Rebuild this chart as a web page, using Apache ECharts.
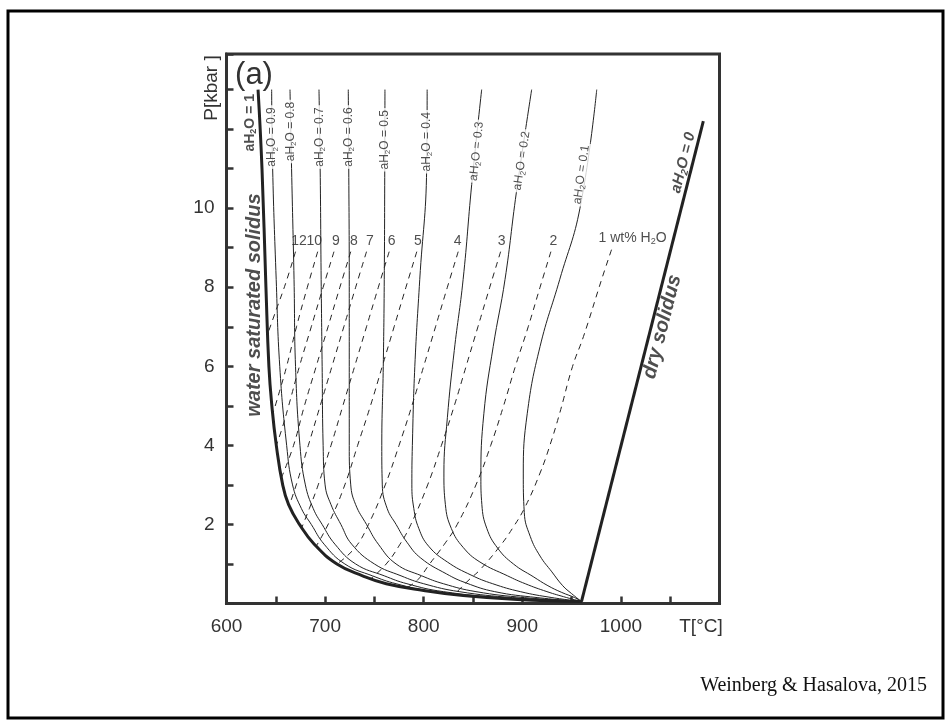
<!DOCTYPE html>
<html><head><meta charset="utf-8">
<script src="https://cdn.jsdelivr.net/npm/echarts@6/dist/echarts.min.js"></script>
<style>html,body{margin:0;padding:0;background:#fff}#c{width:952px;height:723px}</style>
</head><body><div id="c"></div>
<script>
// ---------- data (T in °C, P in kbar) ----------
const xTickLabels = ['600','700','800','900','1000'];
const yTickLabels = ['2','4','6','8','10'];
const xAxisTitle = 'T[°C]';
const yAxisTitle = 'P[kbar ]';
const panelLabel = '(a)';
const citation = 'Weinberg & Hasalova, 2015';

// water-saturated solidus (aH2O = 1)
const wetSolidus = [[632,13],[636,11],[640,8],[643,6],[646,5],[650.5,4],[657,3],[663,2.5],[674,2],[689,1.5],[712,1],[738,0.7],[762,0.5],[800,0.33],[840,0.2],[895,0.1],[960,0.05]];
// dry solidus (aH2O = 0)
const drySolidus = [[960,0.05],[1083.6,12.2]];

// H2O activity curves
const aH2O09 = [[645.8,13],[646.8,11],[650.4,8.2],[654,6],[661,4],[667,3],[676,2.4],[686,2],[699,1.5],[720,1],[748,0.7],[772,0.5],[810,0.3],[872,0.15],[960,0.05]];
const aH2O08 = [[664.4,13],[666,11],[668.5,8.2],[670,6],[674.5,4],[680,3],[688,2.4],[697,2],[710,1.5],[731,1],[760,0.7],[783,0.5],[820,0.3],[880,0.15],[960,0.05]];
const aH2O07 = [[693.8,13],[695,11],[696,8.2],[697,6],[698,4],[700,3],[706,2.5],[716,2],[727,1.5],[750,1],[777,0.7],[800,0.5],[836,0.3],[890,0.15],[960,0.05]];
const aH2O06 = [[723.5,13],[724,11],[724.5,8.2],[724.5,6],[724.5,4],[726,3],[731,2.5],[742,2],[754,1.5],[772,1],[798,0.7],[820,0.5],[853,0.3],[902,0.15],[960,0.05]];
const aH2O05 = [[760.7,13],[760.5,11],[760,8.2],[759,6],[757.5,4],[758,3],[763,2.4],[772,2],[783,1.55],[797,1.15],[823,0.75],[843,0.52],[872,0.3],[915,0.15],[960,0.05]];
const aH2O04 = [[803.5,13],[803,11],[796,8.2],[791,6],[788.5,4],[788,3],[790,2.4],[795,1.9],[805,1.45],[824,1.05],[848,0.72],[870,0.5],[898,0.3],[930,0.15],[960,0.05]];
const aH2O03 = [[858.8,13],[848.7,10.6],[840,8.2],[831,6.4],[824,4.7],[820.5,3.3],[822,2.5],[828,1.9],[840,1.42],[857,1.05],[885,0.7],[903,0.5],[925,0.3],[945,0.15],[960,0.05]];
const aH2O02 = [[909.5,13],[894,10.4],[882.5,8.2],[870.5,6.5],[861,4.8],[858,3.2],[859,2.5],[864,1.9],[875,1.4],[891,1],[911,0.68],[926,0.45],[940,0.28],[953,0.15],[960,0.05]];
const aH2O01 = [[975.5,13],[958.5,10],[938,8.2],[918,6.5],[905,4.8],[901,3.3],[902,2.3],[908,1.7],[918,1.2],[930,0.8],[941,0.45],[950,0.25],[960,0.05]];
const activityCurves = [aH2O09,aH2O08,aH2O07,aH2O06,aH2O05,aH2O04,aH2O03,aH2O02,aH2O01];
const activityValues = ['0.9','0.8','0.7','0.6','0.5','0.4','0.3','0.2','0.1'];
const activityLabelAt = [[646,11.8],[665,11.94],[694.5,11.8],[724,11.8],[760.5,11.73],[803,11.68],[853.7,11.44],[899.4,11.2],[960,10.85]];
const activityLabelTilt = [90,90,90,90,90,90,84,81.5,82];

// melt H2O isopleths (wt% H2O)
const wt12 = [[670,8.9],[660,8.1],[650,7.4],[641.5,6.8]];
const wt10 = [[692.5,8.9],[682,8],[671,7],[661,6],[653,5.3],[647,4.8]];
const wt9  = [[709,8.9],[698,8],[686,7],[674,6],[663,5],[656,4.4],[650.5,4]];
const wt8  = [[726,8.9],[715,8],[703,7],[691,6],[679,5],[668,4],[656,3.2]];
const wt7  = [[742,8.9],[731,8],[719,7],[707,6],[695,5],[683,4],[672,3.1],[664,2.5]];
const wt6  = [[765,8.9],[754,8],[742,7],[730,6],[718,5],[706,4],[693,3],[684,2.4],[676,1.9]];
const wt5  = [[793,8.9],[782,8],[770,7],[758,6],[746,5],[733,4],[720,3],[705,2.1],[691,1.45]];
const wt4  = [[835,8.9],[824,8],[812,7],[800,6],[788,5],[775,4],[761,3],[744,2],[730,1.4],[712,1]];
const wt3  = [[878,8.9],[867,8],[855,7],[843,6],[831,5],[818,4],[804,3],[787,2],[776,1.5],[762,1],[746,0.62]];
const wt2  = [[929,8.9],[918,8],[906,7],[893,6],[881,5],[868,4],[853,3],[834,2],[821,1.5],[806,1],[794,0.6],[783,0.4]];
const wt1  = [[990.5,8.95],[980.5,8.2],[962,6.75],[951,6],[938,4.82],[928,4],[918,3.3],[903,2.45],[890,1.9],[877,1.44],[857,0.85],[846,0.6],[832,0.25]];
const isopleths = [wt12,wt10,wt9,wt8,wt7,wt6,wt5,wt4,wt3,wt2,wt1];
const isoplethNames = ['12','10','9','8','7','6','5','4','3','2','1 wt% H{s|2}O'];
const isoplethLabelAt = [[673.5,9.16],[689,9.16],[711,9.16],[729.3,9.16],[745.5,9.16],[767.5,9.16],[794,9.16],[834.5,9.16],[879,9.16],[931.5,9.16],[1011.8,9.25]];

// curve annotations
const wetLabelAt = [623.8,12.16];
const wetNameAt = [628,7.55];
const dryLabelAt = [1063.3,11.15];
const dryNameAt = [1042,7.0];

// ---------- chart ----------
const FONT = '"Liberation Sans", Arial, Helvetica, sans-serif';
const INK = '#222';
const AX = '#333';
const series = [];
const SM = 0.45;

activityCurves.forEach(d=>series.push({type:'line',data:d,showSymbol:false,smooth:SM,silent:true,z:3,
  lineStyle:{color:INK,width:1}}));
isopleths.forEach(d=>series.push({type:'line',data:d,showSymbol:false,smooth:SM,silent:true,z:3,
  lineStyle:{color:INK,width:1,type:[6,5]}}));
series.push({type:'line',data:wetSolidus,showSymbol:false,smooth:SM,silent:true,z:4,lineStyle:{color:INK,width:3}});
series.push({type:'line',data:drySolidus,showSymbol:false,silent:true,z:4,lineStyle:{color:INK,width:3}});

const subRich = (fs,bold,italic)=>({s:{fontSize:Math.round(fs*0.65),fontFamily:FONT,fontWeight:bold?'bold':'normal',fontStyle:italic?'italic':'normal',color:INK,verticalAlign:'bottom',lineHeight:fs+3},
  n:{fontSize:fs,fontFamily:FONT,fontWeight:bold?'bold':'normal',fontStyle:italic?'italic':'normal',color:INK,lineHeight:fs+3}});
const aText = v => '{n|aH}{s|2}{n|O = '+v+'}';

series.push({type:'scatter',symbolSize:0,silent:true,z:10,
  data:activityValues.map((v,i)=>({value:activityLabelAt[i],name:v,label:{rotate:activityLabelTilt[i]}})),
  label:{show:true,position:'inside',formatter:p=>aText(p.name),backgroundColor:'#fff',padding:[0,2],rich:subRich(12,false,false)}});
series.push({type:'scatter',symbolSize:0,silent:true,z:10,
  data:isoplethNames.map((v,i)=>({value:isoplethLabelAt[i],name:v})),
  label:{show:true,position:'inside',formatter:p=>p.name.indexOf('{')>=0?'{n|'+p.name.replace('{s|2}','}{s|2}{n|')+'}':'{n|'+p.name+'}',rich:subRich(14,false,false)}});
series.push({type:'scatter',symbolSize:0,silent:true,z:10,
  data:[{value:wetLabelAt,name:'1',label:{rotate:90,rich:subRich(14,true,false)}},
        {value:dryLabelAt,name:'0',label:{rotate:75.8,rich:subRich(15,true,true)}}],
  label:{show:true,position:'inside',formatter:p=>aText(p.name)}});
series.push({type:'scatter',symbolSize:0,silent:true,z:10,
  data:[{value:wetNameAt,name:'water saturated solidus',label:{rotate:90}},
        {value:dryNameAt,name:'dry solidus',label:{rotate:75.8}}],
  label:{show:true,position:'inside',formatter:p=>p.name,fontSize:20,fontWeight:'bold',fontStyle:'italic',fontFamily:FONT,color:INK}});

const option = {
  animation:false,
  backgroundColor:'#fff',
  textStyle:{fontFamily:FONT},
  grid:{left:226.5,right:232.5,top:54,bottom:119.5,show:true,borderColor:AX,borderWidth:3,backgroundColor:'transparent'},
  xAxis:{type:'value',min:600,max:1100,interval:50,
    axisLine:{lineStyle:{color:AX,width:3}},
    axisTick:{inside:true,length:7,lineStyle:{color:AX,width:2.5}},
    splitLine:{show:false},
    axisLabel:{fontSize:19,color:AX,margin:14,fontFamily:FONT,
      formatter:v=>v===1100?'{t|'+xAxisTitle+'}':(xTickLabels.includes(String(v))?String(v):''),
      rich:{t:{fontSize:19,color:AX,fontFamily:FONT,padding:[0,37,0,0]}}}},
  yAxis:{type:'value',min:0,max:13.9,interval:1,
    axisLine:{lineStyle:{color:AX,width:3}},
    axisTick:{inside:true,length:7,lineStyle:{color:AX,width:2.5}},
    splitLine:{show:false},
    axisLabel:{fontSize:19,color:AX,margin:12,fontFamily:FONT,
      formatter:v=>yTickLabels.includes(String(v))?String(v):''}},
  graphic:[
    {type:'rect',shape:{x:8,y:11,width:935,height:707},style:{fill:'none',stroke:'#000',lineWidth:3},silent:true},
    {type:'text',x:212,y:88,rotation:Math.PI/2,style:{text:yAxisTitle,fontSize:19,fill:AX,fontFamily:FONT,align:'center',verticalAlign:'middle'},silent:true},
    {type:'text',x:254,y:75,style:{text:panelLabel,fontSize:31,fill:AX,fontFamily:FONT,align:'center',verticalAlign:'middle'},silent:true},
    {type:'text',x:927,y:686,style:{text:citation,fontSize:20,fill:'#111',fontFamily:'"Liberation Serif", "Times New Roman", serif',align:'right',verticalAlign:'middle'},silent:true}
  ],
  series
};
const chart = echarts.init(document.getElementById('c'),null,{renderer:'canvas'});
chart.setOption(option);
</script></body></html>
